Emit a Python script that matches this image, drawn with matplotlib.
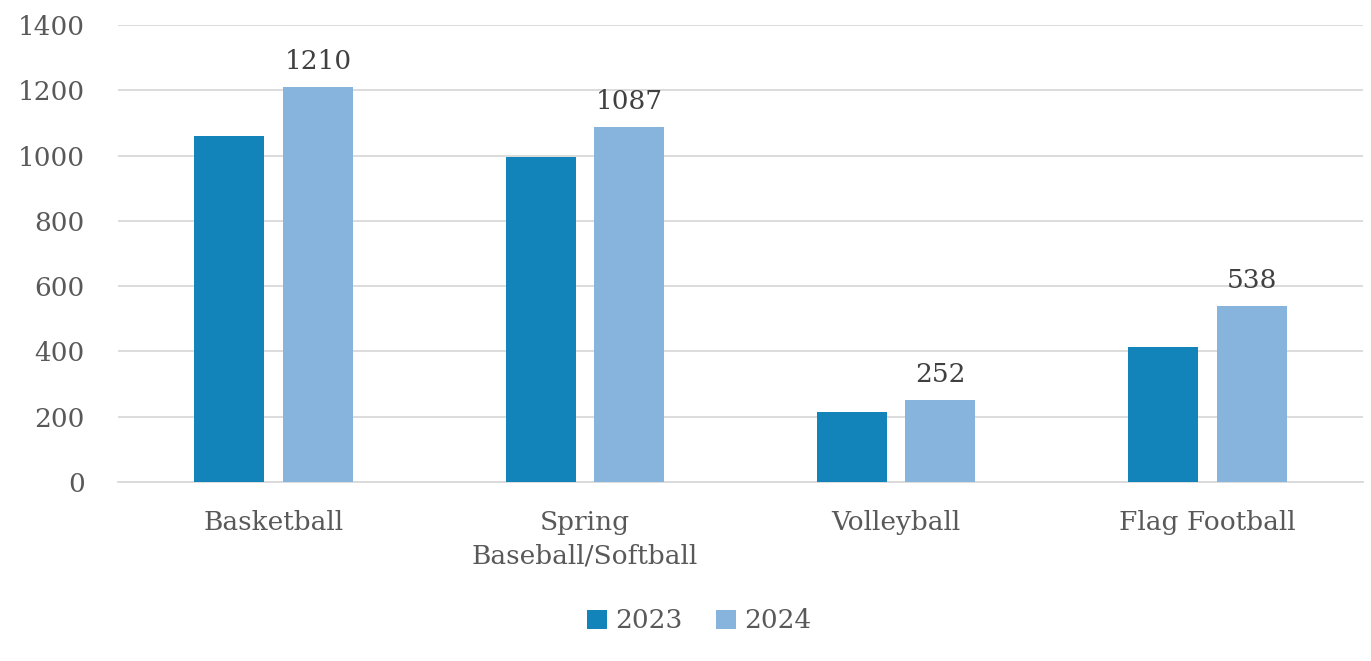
import matplotlib.pyplot as plt
import numpy as np

# Datos
categories = ["Basketball", "Spring\nBaseball/Softball", "Volleyball", "Flag Football"]
vals_2023 = [1060, 996, 213, 414]
vals_2024 = [1210, 1087, 252, 538]
years = ["2023", "2024"]

c2023 = "#1384BA"
c2024 = "#86B4DC"

plt.rcParams['font.family'] = ['DejaVu Serif']

fig = plt.figure(figsize=(13.71, 6.61), dpi=100)
ax = fig.add_axes([118 / 1371, 1 - 482 / 661, 1245 / 1371, 457 / 661])

x = np.arange(len(categories))
w = 0.225
off = (w + 0.06) / 2
ax.bar(x - off, vals_2023, w, color=c2023, label=years[0], zorder=3)
b2 = ax.bar(x + off, vals_2024, w, color=c2024, label=years[1], zorder=3)

for rect, v in zip(b2, vals_2024):
    ax.text(rect.get_x() + rect.get_width() / 2, v + 40, str(v),
            ha='center', va='bottom', fontsize=19, color='#404040')

ax.set_xlim(-0.5, 3.5)
ax.set_ylim(0, 1400)
ax.set_yticks(range(0, 1401, 200))
ax.grid(axis='y', color='#d9d9d9', linewidth=1.3, zorder=0)
for s in ['top', 'right', 'left']:
    ax.spines[s].set_visible(False)
ax.spines['bottom'].set_color('#d9d9d9')
ax.spines['bottom'].set_linewidth(1.3)
ax.tick_params(axis='both', length=0, labelsize=19, colors='#595959')
ax.tick_params(axis='y', pad=24)
ax.tick_params(axis='x', pad=20)
ax.set_xticks(x)
ax.set_xticklabels(categories, linespacing=1.45)

fig.legend(loc='center', bbox_to_anchor=(0.51, 1 - 621 / 661), ncol=2, frameon=False,
           fontsize=19, handlelength=0.75, handleheight=0.75, handletextpad=0.3,
           columnspacing=1.3, labelcolor='#595959')

fig.savefig("out.png", dpi=100)
